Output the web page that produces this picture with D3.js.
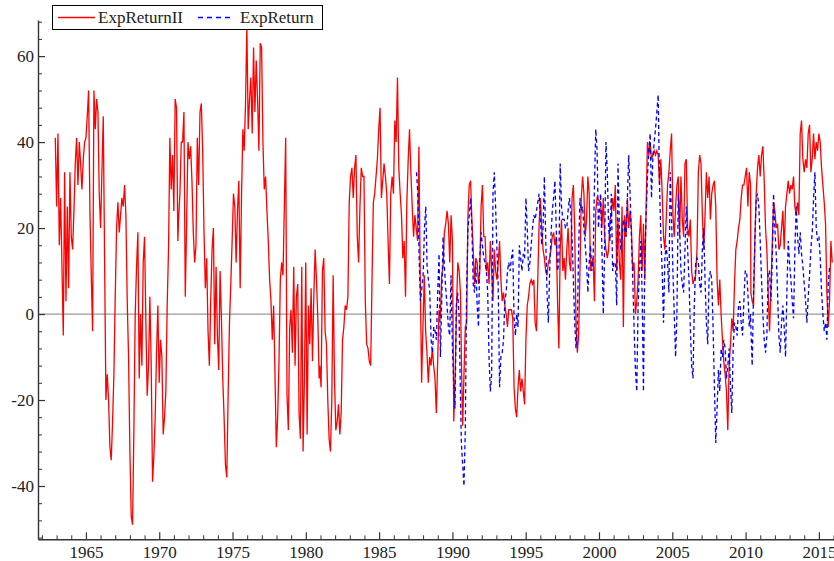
<!DOCTYPE html>
<html>
<head>
<meta charset="utf-8">
<script src="https://cdn.jsdelivr.net/npm/d3@7/dist/d3.min.js"></script>
<style>
  body { margin: 0; background: #fff; }
  svg text { font-family: "Liberation Serif", "DejaVu Serif", serif; }
</style>
</head>
<body>
<svg id="chart" width="834" height="561"></svg>
<script>
// ExpReturnII (red); each piece is evenly spaced in time
const redSpans = [[1962.91, 1971.27], [1971.32, 1980.91], [1980.95, 1990.55],
  [1990.61, 1999.87], [2000.11, 2010.34], [2010.36, 2015.91]];
const red1963 = [41,25,42,16,27,11,-5,33,3,25,6,33,18,15,24,35,41,30,40,35,29,36,40,41,46,52,24,9,-4,52,
  43,50,47,28,20,33,46,13,-20,-14,-20,-31,-34,-25,-14,4,20,26,19,23,27,25,30,23,3,-10,-32,-47,-49,-27,
  0,11,19,-15,0,-12,12,18,-2,-19,-12,4,-12,-39,-33,-24,-9,2,-16,-6,-10,-28,-24,-18,2,15,41,29,37,24,50,48,17];
const red1971 = [22,28,40,40,47,4,21,40,36,39,31,19,12,16,41,30,47,49,38,19,6,13,-4,-12,3,15,20,-7,11,-5,
  -13,10,-1,-15,-24,-35,-38,-19,-2,7,17,28,25,12,24,31,6,27,43,38,49,67,43,50,55,42,62,47,59,50,
  38,63,62,40,29,32,24,17,8,3,-6,2,-14,-31,-24,-11,8,12,9,25,41,-19,-27,-3,1,-9,11,-12,4,7,
  -23,-29,11,-32,-15,12,-28,2,-7,6,-11,4,15,8,-1,-15];
const red1981 = [-12,-17,10,13,-4,-7,-20,-29,-32,-20,9,-15,-27,-25,-21,-28,-23,-6,-3,2,1,4,26,32,34,27,34,37,18,12,
  25,34,32,32,3,-7,-8,-11,-12,8,26,28,32,36,43,48,27,31,35,32,28,17,7,28,32,28,45,40,55,34,
  28,23,13,17,4,26,36,43,33,25,18,23,20,17,39,8,-16,-3,9,-4,-9,-16,-10,-12,-8,-12,-15,-23,-11,1,
  -1,9,11,19,21,24,21,12,23,17,-25,-15,1,12,10,5];
const red1990 = [-10,-26,-14,-3,-2,23,30,31,22,15,7,13,12,7,10,25,30,18,18,10,12,7,17,10,3,15,10,8,12,17,
  8,3,5,2,0,-3,1,1,1,-1,-17,-22,-24,-17,-13,-18,-15,-18,-21,-6,2,4,7,8,7,8,-2,-4,8,21,
  27,20,15,13,10,9,12,13,15,18,19,16,18,3,-8,15,22,10,13,8,15,20,12,10,27,30,20,-2,-9,-5,
  10,27,32,28,18,22,32,28,10,12,13,3,24,27];
const red2000 = [26,20,27,18,15,13,15,22,23,27,24,30,10,22,12,8,25,-3,23,18,27,20,24,20,10,12,0,3,8,18,
  23,10,21,8,25,40,37,40,36,37,38,37,38,37,30,36,28,18,15,22,30,33,38,42,23,18,25,30,32,18,
  32,22,18,35,36,20,18,22,10,7,8,9,15,33,37,35,23,15,23,33,27,32,22,28,30,31,25,8,2,8,
  0,-6,-11,-14,-18,-27,-12,-7,-1,-4,7,15,17,20,22,27,30,30,32,34,25,33,30];
const red2010 = [5,3,2,17,28,34,37,32,37,39,31,20,15,5,-4,5,16,26,24,20,21,15,16,20,24,15,25,28,31,28,
  30,29,32,25,23,26,23,42,45,36,33,36,34,42,44,33,36,42,36,40,38,42,40,34,30,26,21,5,-3,3,17,12];

// ExpReturn (blue dashed)
const blueSpans = [[1987.55, 1990.45], [1990.61, 1999.96], [2000.11, 2010.34], [2010.36, 2015.73]];
const blue1987 = [33,28,13,3,6,9,20,25,11,8,5,-6,-9,-3,-4,-6,5,14,-10,3,18,11,6,2,-3,-5,9,-7,-16,-22,2,5,0];
const blue1990 = [-30,-35,-40,-27,5,20,23,27,20,7,5,11,2,-3,13,19,16,13,12,10,5,-10,-18,-14,28,33,25,15,6,-17,
  -10,-9,-6,3,5,10,12,10,13,15,-1,-5,0,-3,16,13,10,14,13,27,20,10,12,16,20,23,22,24,26,28,
  22,16,20,32,18,5,-2,10,18,24,27,31,20,10,12,35,25,22,22,20,20,24,27,24,18,8,-2,-8,-3,15,
  27,24,25,20,16,12,5,12,16,10,13,30,43,38,20];
const blue2000 = [28,15,0,15,40,33,20,17,28,10,12,12,2,35,20,15,17,22,20,18,27,37,28,18,8,-3,-13,-18,2,10,
  17,5,-18,13,23,32,38,42,27,36,40,43,47,51,30,18,10,-2,13,16,12,5,33,22,10,0,-10,0,28,20,
  10,7,5,15,25,15,8,-3,-12,-15,2,12,13,12,7,5,15,20,8,-2,-7,8,10,8,-3,-17,-30,-22,-13,-18,
  -8,-10,-6,-8,-15,-12,-8,-17,-23,-8,-2,-3,-5,2,3,-2,-5,3,10,10,5,-3,0];
const blue2010 = [-3,-12,5,17,27,28,25,17,8,0,-6,-9,-5,10,10,3,12,28,20,14,5,-5,-9,-2,2,-3,-10,5,17,12,
  8,3,-1,15,25,18,14,19,14,11,7,3,-2,4,9,15,19,27,33,20,17,18,13,5,0,-4,-2,-6,7,11];

const yearTicks = [1965, 1970, 1975, 1980, 1985, 1990, 1995, 2000, 2005, 2010, 2015];
const valueTicks = [-40, -20, 0, 20, 40, 60];
const legendNames = ['ExpReturnII', 'ExpReturn'];

function toPoints(spans, pieces) {
  const pts = [];
  pieces.forEach((vals, k) => {
    const [s, e] = spans[k];
    vals.forEach((v, i) => pts.push([s + i * (e - s) / (vals.length - 1), v]));
  });
  return pts;
}

const redData = toPoints(redSpans, [red1963, red1971, red1981, red1990, red2000, red2010]);
const blueData = toPoints(blueSpans, [blue1987, blue1990, blue2000, blue2010]);

const svg = d3.select('#chart');
const plotLeft = 38, plotRight = 835, plotTop = 20, plotBottom = 539.3;

const x = d3.scaleLinear().domain([1961.73, 2016.1]).range([plotLeft, plotRight]);
const y = d3.scaleLinear().domain([-52.4, 68.4]).range([plotBottom, plotTop]);

const axisColor = '#333';

// zero line
svg.append('line')
  .attr('x1', plotLeft).attr('x2', plotRight)
  .attr('y1', y(0)).attr('y2', y(0))
  .attr('stroke', '#999').attr('stroke-width', 1.2);

// minor ticks
svg.append('g')
  .attr('transform', 'translate(0,' + plotBottom + ')')
  .call(d3.axisBottom(x).tickValues(d3.range(1962, 2017).filter(d => d % 5 !== 0))
    .tickSize(-4).tickSizeOuter(0).tickFormat(''))
  .call(g => g.select('.domain').remove())
  .call(g => g.selectAll('line').attr('stroke', axisColor));
svg.append('g')
  .attr('transform', 'translate(' + plotLeft + ',0)')
  .call(d3.axisLeft(y).tickValues(d3.range(-52, 69, 4).filter(d => d % 20 !== 0))
    .tickSize(-4).tickSizeOuter(0).tickFormat(''))
  .call(g => g.select('.domain').remove())
  .call(g => g.selectAll('line').attr('stroke', axisColor));

// major axes
svg.append('g')
  .attr('transform', 'translate(0,' + plotBottom + ')')
  .call(d3.axisBottom(x).tickValues(yearTicks).tickSize(-7).tickSizeOuter(0)
    .tickPadding(7).tickFormat(d => String(d)))
  .call(g => g.select('.domain').attr('stroke', axisColor).attr('stroke-width', 1.4))
  .call(g => g.selectAll('line').attr('stroke', axisColor).attr('stroke-width', 1.2))
  .call(g => g.selectAll('text').attr('fill', '#222').style('font-size', '17px')
    .style('font-family', '"Liberation Serif", serif'));

svg.append('g')
  .attr('transform', 'translate(' + plotLeft + ',0)')
  .call(d3.axisLeft(y).tickValues(valueTicks).tickSize(-7).tickSizeOuter(0)
    .tickPadding(4).tickFormat(d => String(d)))
  .call(g => g.select('.domain').attr('stroke', axisColor).attr('stroke-width', 1.4))
  .call(g => g.selectAll('line').attr('stroke', axisColor).attr('stroke-width', 1.2))
  .call(g => g.selectAll('text').attr('fill', '#222').style('font-size', '17px')
    .style('font-family', '"Liberation Serif", serif'));

const line = d3.line().x(d => x(d[0])).y(d => y(d[1]));

svg.append('path')
  .datum(redData)
  .attr('fill', 'none')
  .attr('stroke', '#ff0000')
  .attr('stroke-width', 1.3)
  .attr('d', line);

svg.append('path')
  .datum(blueData)
  .attr('fill', 'none')
  .attr('stroke', '#0000ff')
  .attr('stroke-width', 1.3)
  .attr('stroke-dasharray', '4,3')
  .attr('d', line);

// legend
const legend = svg.append('g');
legend.append('rect')
  .attr('x', 52.5).attr('y', 5.5).attr('width', 270).attr('height', 24)
  .attr('fill', '#fff').attr('stroke', '#000').attr('stroke-width', 1);
legend.append('line')
  .attr('x1', 58).attr('x2', 95).attr('y1', 17.5).attr('y2', 17.5)
  .attr('stroke', '#ff0000').attr('stroke-width', 1.3);
legend.append('text')
  .attr('x', 98).attr('y', 23).attr('fill', '#222').style('font-size', '17px')
  .text(legendNames[0]);
legend.append('line')
  .attr('x1', 198).attr('x2', 231).attr('y1', 17.5).attr('y2', 17.5)
  .attr('stroke', '#0000ff').attr('stroke-width', 1.3).attr('stroke-dasharray', '5,4');
legend.append('text')
  .attr('x', 240).attr('y', 23).attr('fill', '#222').style('font-size', '17px')
  .text(legendNames[1]);
</script>
</body>
</html>
